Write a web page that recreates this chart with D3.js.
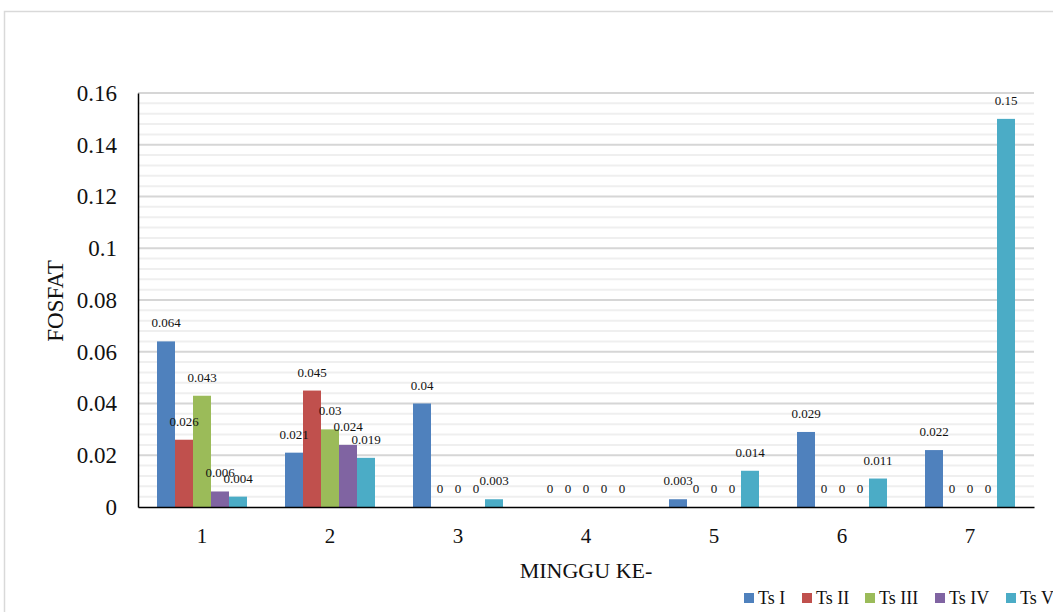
<!DOCTYPE html>
<html><head><meta charset="utf-8">
<script src="https://cdn.jsdelivr.net/npm/d3@7"></script>
<style>body{margin:0;background:#fff}svg{display:block}text{font-family:"Liberation Serif","Times New Roman",serif}</style>
</head><body>
<svg id="c" width="1053" height="612"></svg>
<script>
const weeks = ["1","2","3","4","5","6","7"];
const seriesNames = ["Ts I","Ts II","Ts III","Ts IV","Ts V"];
const tsI   = [0.064, 0.021, 0.04, 0, 0.003, 0.029, 0.022];
const tsII  = [0.026, 0.045, 0, 0, 0, 0, 0];
const tsIII = [0.043, 0.03, 0, 0, 0, 0, 0];
const tsIV  = [0.006, 0.024, 0, 0, 0, 0, 0];
const tsV   = [0.004, 0.019, 0.003, 0, 0.014, 0.011, 0.15];
const yTicks = [0, 0.02, 0.04, 0.06, 0.08, 0.1, 0.12, 0.14, 0.16];
const colors = ["#4F81BD","#C0504D","#9BBB59","#8064A2","#4BACC6"];
const seriesVals = [tsI, tsII, tsIII, tsIV, tsV];

const svg = d3.select("#c");
const L = 138, R = 1034, T = 93, B = 507;

svg.append("rect").attr("x",4.5).attr("y",11.5).attr("width",1200).attr("height",800)
  .attr("fill","none").attr("stroke","#d9d9d9").attr("stroke-width",1.5);

const y = d3.scaleLinear().domain([0,0.16]).range([B,T]);

// minor gridlines
const minor = d3.range(0, 0.16001, 0.004).filter(v => Math.abs((v/0.02) - Math.round(v/0.02)) > 1e-6);
svg.append("g").selectAll("line").data(minor).join("line")
  .attr("x1",L).attr("x2",R).attr("y1",d=>y(d)).attr("y2",d=>y(d))
  .attr("stroke","#efefef").attr("stroke-width",2);
svg.append("g").selectAll("line").data(yTicks.slice(1)).join("line")
  .attr("x1",L).attr("x2",R).attr("y1",d=>y(d)).attr("y2",d=>y(d))
  .attr("stroke","#d6d6d6").attr("stroke-width",2);

// bars
const xc = d3.scaleBand().domain(weeks).range([L,R]);
const gw = 90;
const xb = d3.scaleBand().domain(seriesNames).range([0, gw]);
const barX = (s,i) => xc(weeks[i]) + xc.bandwidth()/2 - gw/2 + xb(s);
seriesNames.forEach((s, si) => {
  svg.append("g").selectAll("rect").data(seriesVals[si]).join("rect")
    .attr("x",(d,i)=>barX(s,i))
    .attr("y",d=>y(d)).attr("width",xb.bandwidth()).attr("height",d=>B-y(d))
    .attr("fill",colors[si]);
});
seriesNames.forEach((s, si) => {
  svg.append("g").selectAll("text").data(seriesVals[si]).join("text")
    .attr("x",(d,i)=>barX(s,i) + xb.bandwidth()/2)
    .attr("y",d=>y(d)-14).attr("text-anchor","middle")
    .attr("font-size",13).attr("fill","#111").text(d=>String(d));
});

// axes
const yAxis = d3.axisLeft(y).tickValues(yTicks).tickSize(0).tickPadding(21).tickFormat(d=>String(d));
const ga = svg.append("g").attr("transform",`translate(${L},0)`).call(yAxis);
ga.select(".domain").attr("stroke","#000").attr("stroke-width",1.5);
ga.selectAll("text").attr("font-size",23).attr("fill","#111").attr("font-family","Liberation Serif");

const xAxis = d3.axisBottom(xc).tickSize(0).tickPadding(21);
const gx = svg.append("g").attr("transform",`translate(0,${B})`).call(xAxis);
gx.select(".domain").attr("stroke","#000").attr("stroke-width",1.5);
gx.selectAll("text").attr("font-size",21).attr("fill","#111").attr("font-family","Liberation Serif");

svg.append("text").attr("transform",`translate(63,301) rotate(-90)`).attr("text-anchor","middle")
  .attr("font-size",23).attr("fill","#111").text("FOSFAT");
svg.append("text").attr("x",586).attr("y",578).attr("text-anchor","middle")
  .attr("font-size",22).attr("fill","#111").text("MINGGU KE-");

// legend
const legX = [744, 802, 865, 935, 1006];
const lg = svg.append("g");
seriesNames.forEach((s,i)=>{
  lg.append("rect").attr("x",legX[i]).attr("y",593).attr("width",10).attr("height",10).attr("fill",colors[i]);
  lg.append("text").attr("x",legX[i]+14).attr("y",604).attr("font-size",18).attr("fill","#111").text(s);
});
</script>
</body></html>
